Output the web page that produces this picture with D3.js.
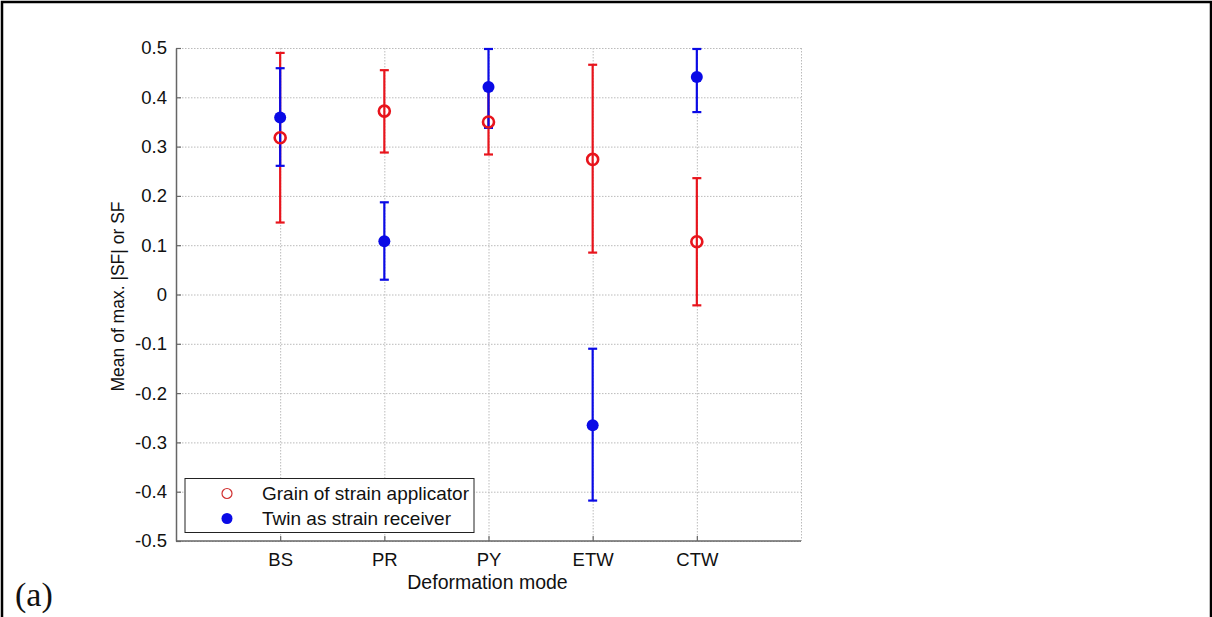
<!DOCTYPE html>
<html>
<head>
<meta charset="utf-8">
<script src="https://cdn.jsdelivr.net/npm/d3@7"></script>
<style>
  body { margin: 0; background: #fff; }
  svg { display: block; }
  text { font-family: "Liberation Sans", Arial, sans-serif; fill: #111; }
</style>
</head>
<body>
<svg id="chart"></svg>
<script>
// data
const modes = ["BS", "PR", "PY", "ETW", "CTW"]
const grainMean  = [0.318, 0.372, 0.350, 0.274, 0.107]
const grainUpper = [0.490, 0.455, 0.416, 0.466, 0.236]
const grainLower = [0.146, 0.288, 0.284, 0.085, -0.022]
const twinMean  = [0.359, 0.108, 0.421, -0.265, 0.441]
const twinUpper = [0.459, 0.187, 0.498, -0.110, 0.498]
const twinLower = [0.261, 0.030, 0.338, -0.418, 0.370]
const yTicks = [-0.5, -0.4, -0.3, -0.2, -0.1, 0, 0.1, 0.2, 0.3, 0.4, 0.5]

const W = 1212, H = 617
const pLeft = 176, pRight = 801, pTop = 48, pBottom = 541
const red = "#e8141c", blue = "#0a0ae6"

let svg = d3.select("#chart").attr("width", W).attr("height", H)

// page frame
svg.append("rect")
    .attr("x", 2).attr("y", 2)
    .attr("width", W - 3).attr("height", H + 10)
    .attr("fill", "none").attr("stroke", "#000").attr("stroke-width", 2.5)

let x = d3.scaleLinear().domain([0, 6]).range([pLeft, pRight])
let y = d3.scaleLinear().domain([-0.5, 0.5]).range([pBottom, pTop])

// grid
let grid = svg.append("g").attr("stroke", "#bbb").attr("stroke-dasharray", "1.5,1.5").attr("stroke-width", 1)
grid.selectAll("line.gy").data(yTicks).enter().append("line")
    .attr("x1", pLeft).attr("x2", pRight)
    .attr("y1", d => y(d) + 0.5).attr("y2", d => y(d) + 0.5)
grid.selectAll("line.gx").data([1, 2, 3, 4, 5, 6]).enter().append("line")
    .attr("y1", pTop).attr("y2", pBottom)
    .attr("x1", d => x(d) + 0.5).attr("x2", d => x(d) + 0.5)

// axes (inward ticks, matlab style)
let yAxis = d3.axisLeft(y).tickValues(yTicks).tickSizeInner(-5).tickSizeOuter(0).tickPadding(9)
    .tickFormat(d => d === 0 ? "0" : d.toFixed(1))
let xAxis = d3.axisBottom(x).tickValues([1, 2, 3, 4, 5]).tickSizeInner(-5).tickSizeOuter(0).tickPadding(12)
    .tickFormat(d => modes[d - 1])

let gy = svg.append("g").attr("transform", "translate(" + pLeft + ",0)").call(yAxis)
let gx = svg.append("g").attr("transform", "translate(0," + pBottom + ")").call(xAxis)
;[gy, gx].forEach(g => {
    g.select(".domain").attr("stroke", "#666").attr("stroke-width", 1.5)
    g.selectAll(".tick line").attr("stroke", "#666").attr("stroke-width", 1.2)
    g.selectAll(".tick text").style("font-size", "18.5px").attr("fill", "#111")
})
gx.select(".domain").attr("d", "M" + pLeft + ",0H" + pRight)

// axis labels
svg.append("text")
    .attr("x", x(3) - 1).attr("y", 589)
    .attr("text-anchor", "middle")
    .style("font-size", "19.5px")
    .text("Deformation mode")
svg.append("text")
    .attr("transform", "translate(124," + (y(0) + 2) + ") rotate(-90)")
    .attr("text-anchor", "middle")
    .style("font-size", "17.5px")
    .text("Mean of max. |SF| or SF")

// error bars
function errBars(mean, lo, hi, color) {
    let g = svg.append("g").attr("stroke", color).attr("stroke-width", 2.2).attr("fill", "none")
    let rows = mean.map((m, i) => ({ i: i + 1, lo: lo[i], hi: hi[i] }))
    g.selectAll("line.v").data(rows).enter().append("line")
        .attr("x1", d => x(d.i)).attr("x2", d => x(d.i))
        .attr("y1", d => y(d.lo)).attr("y2", d => y(d.hi))
    g.selectAll("line.lo").data(rows).enter().append("line")
        .attr("x1", d => x(d.i) - 4.5).attr("x2", d => x(d.i) + 4.5)
        .attr("y1", d => y(d.lo)).attr("y2", d => y(d.lo))
    g.selectAll("line.hi").data(rows).enter().append("line")
        .attr("x1", d => x(d.i) - 4.5).attr("x2", d => x(d.i) + 4.5)
        .attr("y1", d => y(d.hi)).attr("y2", d => y(d.hi))
}
errBars(grainMean, grainLower, grainUpper, red)
errBars(twinMean, twinLower, twinUpper, blue)

svg.append("g").selectAll("circle").data(grainMean).enter().append("circle")
    .attr("cx", (d, i) => x(i + 1)).attr("cy", d => y(d))
    .attr("r", 5.5).attr("fill", "none").attr("stroke", red).attr("stroke-width", 2.6)
svg.append("g").selectAll("circle").data(twinMean).enter().append("circle")
    .attr("cx", (d, i) => x(i + 1)).attr("cy", d => y(d))
    .attr("r", 6).attr("fill", blue)

// legend
let lg = svg.append("g")
lg.append("rect")
    .attr("x", 185).attr("y", 478.5).attr("width", 289).attr("height", 54)
    .attr("fill", "#fff").attr("stroke", "#222").attr("stroke-width", 1)
lg.append("circle").attr("cx", 227).attr("cy", 493.5).attr("r", 5)
    .attr("fill", "none").attr("stroke", "#d03030").attr("stroke-width", 1.2)
lg.append("circle").attr("cx", 227).attr("cy", 518.5).attr("r", 5.5).attr("fill", blue)
lg.append("text").attr("x", 262).attr("y", 500).style("font-size", "19px").text("Grain of strain applicator")
lg.append("text").attr("x", 262).attr("y", 525).style("font-size", "19px").text("Twin as strain receiver")

// panel tag
svg.append("text")
    .attr("x", 15).attr("y", 606)
    .style("font-family", "'Liberation Serif', 'Times New Roman', serif")
    .style("font-size", "34px")
    .text("(a)")
</script>
</body>
</html>
